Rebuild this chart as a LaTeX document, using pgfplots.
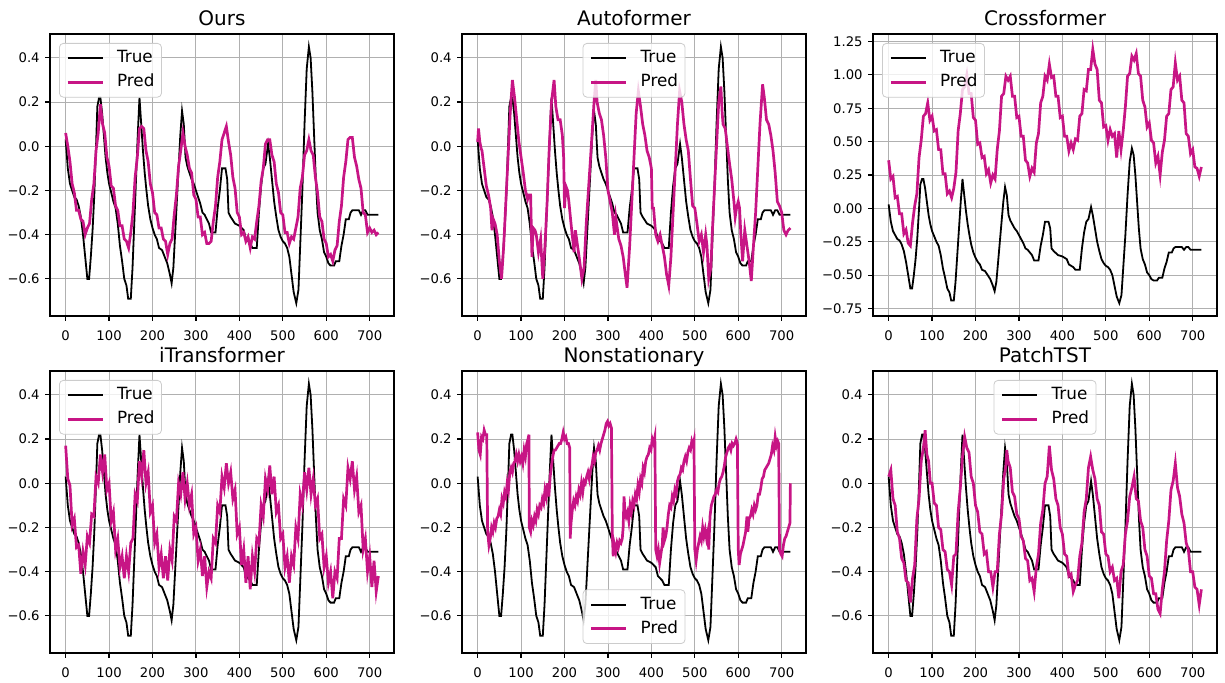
\documentclass[border=0pt]{standalone}
\usepackage{fontspec}
\setmainfont{DejaVu Sans}
\usepackage{pgfplots}
\usepackage{pgfplotstable}
\pgfplotsset{compat=1.18}
\definecolor{predc}{RGB}{199,21,133}
\definecolor{gridc}{RGB}{176,176,176}

\pgfplotstableread{
x y
0 0.03
5 -0.10
10 -0.17
15 -0.20
20 -0.23
25 -0.24
30 -0.27
35 -0.32
40 -0.40
45 -0.50
50 -0.60
54 -0.60
58 -0.50
62 -0.38
66 -0.22
70 0.00
73 0.18
77 0.22
80 0.22
84 0.15
88 0.05
92 -0.05
96 -0.12
100 -0.17
105 -0.21
110 -0.25
115 -0.28
120 -0.35
125 -0.45
130 -0.52
135 -0.60
140 -0.63
144 -0.69
150 -0.69
154 -0.55
158 -0.35
162 -0.15
166 0.05
170 0.22
174 0.10
178 -0.02
182 -0.12
186 -0.20
190 -0.27
195 -0.33
200 -0.37
205 -0.40
210 -0.42
215 -0.46
222 -0.47
228 -0.50
234 -0.53
240 -0.58
244 -0.62
248 -0.55
252 -0.40
256 -0.25
260 -0.10
264 0.05
268 0.16
272 0.10
276 -0.05
280 -0.09
285 -0.12
290 -0.15
295 -0.17
300 -0.20
305 -0.23
310 -0.26
315 -0.30
320 -0.31
325 -0.33
330 -0.35
335 -0.39
345 -0.39
350 -0.28
355 -0.20
360 -0.10
368 -0.10
372 -0.15
375 -0.30
380 -0.32
390 -0.35
400 -0.36
410 -0.38
415 -0.42
425 -0.44
430 -0.46
440 -0.46
445 -0.30
450 -0.18
455 -0.10
460 -0.08
466 0.01
470 -0.05
475 -0.15
480 -0.25
485 -0.32
490 -0.38
495 -0.41
500 -0.43
505 -0.44
510 -0.46
515 -0.50
520 -0.58
525 -0.66
531 -0.71
536 -0.65
540 -0.45
545 -0.20
550 0.10
555 0.35
560 0.45
564 0.40
568 0.25
572 0.05
576 -0.15
580 -0.30
585 -0.38
590 -0.42
595 -0.48
600 -0.50
605 -0.53
610 -0.54
618 -0.54
622 -0.52
630 -0.52
635 -0.45
640 -0.40
645 -0.33
652 -0.33
656 -0.30
660 -0.29
675 -0.29
680 -0.31
685 -0.29
690 -0.29
695 -0.31
720 -0.31
}\truedata

\pgfplotsset{
  every axis title shift=0pt,
  panel/.style={
    scale only axis, width=172pt, height=141pt,
    xmin=-36, xmax=756,
    xtick={0,100,200,300,400,500,600,700},
    xticklabels={0,100,200,300,400,500,600,700},
    grid=major, major grid style={line width=0.45pt, color=gridc},
    axis line style={line width=0.6pt},
    tick align=outside, xtick pos=left, ytick pos=left,
    major tick length=2.5pt, tick style={line width=0.6pt, black},
    tick label style={font=\fontsize{6.6}{7.5}\selectfont, inner sep=0pt},
    xticklabel shift=4.5pt, yticklabel shift=2.5pt,
    title style={font=\fontsize{10}{12}\selectfont, at={(0.5,1)}, anchor=base, yshift=4pt},
    legend cell align=left,
    legend image code/.code={\draw[##1] (0pt,0pt) -- (17.5pt,0pt);},
    legend style={font=\fontsize{8.4}{9}\selectfont, draw=black!20,
      rounded corners=2pt, fill=white, fill opacity=0.8, text opacity=1,
      inner xsep=3.5pt, inner ysep=3.4pt, row sep=3.9pt,
      nodes={inner sep=0pt, text height=6.4pt, text depth=1.7pt},
      /tikz/every odd column/.append style={column sep=6.5pt}},
  },
  ystd/.style={ymin=-0.768, ymax=0.508,
    ytick={-0.6,-0.4,-0.2,0,0.2,0.4},
    yticklabels={−0.6,−0.4,−0.2,0.0,0.2,0.4}},
  truestyle/.style={black, line width=0.9pt},
  predstyle/.style={predc, line width=1.35pt},
  lgUL/.style={legend style={at={(0,1)}, anchor=north west, xshift=4.5pt, yshift=-4.5pt}},
  lgUC/.style={legend style={at={(0.5,1)}, anchor=north, yshift=-4.5pt}},
  lgLC/.style={legend style={at={(0.5,0)}, anchor=south, yshift=4.5pt}},
}

\begin{document}
\begin{tikzpicture}
\useasboundingbox (0,0) rectangle (612.5pt,341.5pt);

% ---------------- Ours ----------------
\begin{axis}[panel, ystd, lgUL, title={Ours}, anchor=south west, at={(25pt,183.5pt)}]
\addplot[truestyle] table[x=x,y=y] {\truedata};
\addplot[predstyle] coordinates {
(0,0.06)(5,0.00)(10,-0.07)(15,-0.17)(20,-0.21)(25,-0.29)(30,-0.29)(35,-0.33)(40,-0.34)(45,-0.40)
(50,-0.37)(55,-0.35)(60,-0.24)(65,-0.17)(70,-0.02)(75,0.06)(80,0.19)(85,0.10)(90,0.06)(95,-0.05)
(100,-0.09)(105,-0.18)(110,-0.19)(115,-0.27)(120,-0.29)(125,-0.36)(130,-0.36)(135,-0.42)(140,-0.43)(145,-0.46)
(150,-0.39)(155,-0.30)(160,-0.14)(165,-0.05)(170,0.08)(175,0.09)(180,0.08)(185,-0.02)(190,-0.07)(195,-0.17)
(200,-0.21)(205,-0.30)(210,-0.31)(215,-0.37)(220,-0.37)(225,-0.42)(230,-0.43)(235,-0.49)(240,-0.44)(245,-0.42)
(250,-0.31)(255,-0.22)(260,-0.09)(265,-0.02)(270,0.06)(275,0.00)(280,-0.04)(285,-0.10)(290,-0.12)(295,-0.22)
(300,-0.24)(305,-0.32)(310,-0.32)(315,-0.40)(320,-0.39)(325,-0.44)(330,-0.44)(335,-0.43)(340,-0.34)(345,-0.27)
(350,-0.14)(355,-0.07)(360,0.03)(365,0.06)(370,0.09)(375,0.02)(380,-0.04)(385,-0.14)(390,-0.19)(395,-0.30)
(400,-0.32)(405,-0.40)(410,-0.39)(415,-0.43)(420,-0.41)(425,-0.46)(430,-0.41)(435,-0.42)(440,-0.34)(445,-0.27)
(450,-0.16)(455,-0.10)(460,0.01)(465,0.03)(470,0.03)(475,-0.04)(480,-0.07)(485,-0.17)(490,-0.21)(495,-0.30)
(500,-0.31)(505,-0.39)(510,-0.39)(515,-0.44)(520,-0.41)(525,-0.42)(530,-0.37)(535,-0.32)(540,-0.19)(545,-0.14)
(550,-0.04)(555,-0.02)(560,0.03)(565,-0.02)(570,-0.04)(575,-0.14)(580,-0.21)(585,-0.32)(590,-0.34)(595,-0.42)
(600,-0.44)(605,-0.50)(610,-0.49)(615,-0.52)(620,-0.47)(625,-0.45)(630,-0.34)(635,-0.27)(640,-0.14)(645,-0.07)
(650,0.03)(655,0.04)(660,0.04)(665,-0.05)(670,-0.09)(675,-0.15)(680,-0.19)(685,-0.30)(690,-0.31)(695,-0.39)
(700,-0.37)(705,-0.39)(710,-0.38)(715,-0.40)(720,-0.39)};
\legend{True,Pred}
\end{axis}

% ---------------- Autoformer ----------------
\begin{axis}[panel, ystd, lgUC, title={Autoformer}, anchor=south west, at={(231pt,183.5pt)}]
\addplot[truestyle] table[x=x,y=y] {\truedata};
\addplot[predstyle] coordinates {
(0,0.02)(2,0.08)(5,0.02)(8,-0.01)(10,-0.02)(15,-0.10)(20,-0.18)(25,-0.22)(30,-0.28)(33,-0.38)(36,-0.33)(40,-0.35)(45,-0.40)
(50,-0.52)(55,-0.60)(60,-0.45)(65,-0.25)(70,-0.05)(75,0.15)(80,0.30)(85,0.22)(90,0.12)(95,0.02)
(100,-0.05)(105,-0.12)(110,-0.20)(115,-0.24)(118,-0.22)(122,-0.22)(125,-0.50)(128,-0.37)(132,-0.38)(135,-0.40)(140,-0.48)(145,-0.42)
(150,-0.60)(155,-0.45)(160,-0.25)(165,0.00)(170,0.20)(176,0.30)(180,0.18)(185,0.12)(190,0.12)(195,0.05)
(198,-0.05)(200,-0.28)(203,-0.18)(207,-0.20)(210,-0.25)(215,-0.35)(222,-0.48)(225,-0.38)(230,-0.45)(235,-0.52)(240,-0.60)(245,-0.55)
(250,-0.35)(255,-0.20)(260,-0.05)(268,0.20)(272,0.30)(275,0.20)(280,0.15)(285,0.12)(290,0.05)(295,-0.05)
(300,-0.20)(305,-0.25)(310,-0.30)(315,-0.40)(318,-0.32)(320,-0.35)(325,-0.42)(330,-0.45)(335,-0.50)(340,-0.58)(344,-0.64)
(350,-0.45)(355,-0.25)(360,-0.05)(365,0.15)(370,0.25)(375,0.18)(380,0.10)(385,0.05)(390,-0.02)(395,-0.05)
(400,-0.10)(402,-0.28)(405,-0.28)(410,-0.40)(415,-0.43)(420,-0.40)(425,-0.45)(430,-0.50)(435,-0.58)(440,-0.63)(445,-0.50)
(450,-0.30)(455,-0.10)(460,0.10)(465,0.25)(470,0.20)(475,0.10)(480,0.03)(485,-0.02)(490,-0.15)(495,-0.27)
(500,-0.28)(505,-0.35)(510,-0.43)(515,-0.40)(520,-0.48)(525,-0.40)(528,-0.45)(532,-0.60)(537,-0.55)(540,-0.40)(545,-0.20)
(550,0.00)(555,0.20)(560,0.27)(563,0.15)(565,0.10)(570,0.08)(575,0.00)(580,-0.08)(585,-0.15)(590,-0.25)(593,-0.32)(596,-0.28)
(600,-0.25)(603,-0.28)(606,-0.40)(610,-0.52)(615,-0.38)(620,-0.45)(625,-0.52)(630,-0.61)(635,-0.45)(640,-0.30)(645,-0.10)
(650,0.10)(656,0.28)(660,0.22)(665,0.12)(670,0.10)(675,0.05)(680,-0.02)(685,-0.12)(690,-0.25)(695,-0.27)
(700,-0.30)(705,-0.38)(710,-0.40)(715,-0.38)(720,-0.37)};
\legend{True,Pred}
\end{axis}

% ---------------- Crossformer ----------------
\begin{axis}[panel, lgUL, title={Crossformer}, anchor=south west, at={(436.5pt,183.5pt)},
  ymin=-0.806, ymax=1.306,
  ytick={-0.75,-0.5,-0.25,0,0.25,0.5,0.75,1,1.25},
  yticklabels={−0.75,−0.50,−0.25,0.00,0.25,0.50,0.75,1.00,1.25}]
\addplot[truestyle] table[x=x,y=y] {\truedata};
\addplot[predstyle] coordinates {
(0,0.36)(5,0.22)(10,0.24)(15,0.08)(20,0.09)(25,-0.04)(30,-0.04)(35,-0.19)(40,-0.16)(45,-0.26)
(50,-0.28)(55,-0.11)(60,0.02)(65,0.11)(70,0.38)(75,0.51)(80,0.69)(85,0.71)(90,0.79)(95,0.66)
(100,0.69)(105,0.58)(110,0.59)(115,0.44)(120,0.44)(125,0.26)(130,0.26)(135,0.11)(140,0.13)(145,0.08)
(150,0.15)(155,0.27)(160,0.58)(165,0.71)(170,0.89)(175,0.91)(180,1.00)(185,0.86)(190,0.86)(195,0.68)
(200,0.66)(205,0.48)(210,0.49)(215,0.38)(220,0.39)(225,0.26)(230,0.29)(235,0.19)(240,0.25)(245,0.22)
(250,0.44)(255,0.58)(260,0.84)(265,0.86)(270,0.99)(275,0.96)(280,0.99)(285,0.84)(290,0.84)(295,0.68)
(300,0.69)(305,0.54)(310,0.54)(315,0.36)(320,0.34)(325,0.24)(330,0.30)(335,0.27)(340,0.49)(345,0.56)
(350,0.79)(355,0.84)(360,0.99)(365,0.96)(370,1.08)(375,0.98)(380,0.99)(385,0.84)(390,0.84)(395,0.68)
(400,0.69)(405,0.54)(410,0.54)(415,0.43)(420,0.49)(425,0.44)(430,0.52)(435,0.51)(440,0.69)(445,0.71)
(450,0.89)(455,0.88)(460,1.04)(465,1.04)(470,1.19)(475,1.08)(480,1.04)(485,0.81)(490,0.79)(495,0.61)
(500,0.62)(505,0.51)(510,0.59)(515,0.54)(520,0.56)(525,0.38)(530,0.58)(535,0.44)(540,0.58)(545,0.76)
(550,0.99)(555,1.01)(560,1.14)(565,1.11)(570,1.16)(575,1.01)(580,0.99)(585,0.81)(590,0.76)(595,0.61)
(600,0.64)(605,0.51)(610,0.49)(615,0.34)(620,0.39)(625,0.25)(630,0.42)(635,0.51)(640,0.69)(645,0.71)
(650,0.89)(655,0.91)(660,1.09)(665,0.96)(670,0.99)(675,0.81)(680,0.79)(685,0.56)(690,0.54)(695,0.41)
(700,0.44)(705,0.31)(710,0.30)(715,0.24)(720,0.31)};
\legend{True,Pred}
\end{axis}

% ---------------- iTransformer ----------------
\begin{axis}[panel, ystd, lgUL, title={iTransformer}, anchor=south west, at={(25pt,15pt)}]
\addplot[truestyle] table[x=x,y=y] {\truedata};
\addplot[predstyle] coordinates {
(0,0.17)(5,0.02)(10,-0.01)(15,-0.19)(20,-0.16)(25,-0.29)(30,-0.28)(35,-0.41)(40,-0.31)(45,-0.37)
(50,-0.24)(55,-0.27)(60,-0.14)(65,-0.15)(70,0.03)(75,0.00)(80,0.13)(85,0.05)(90,0.13)(95,-0.03)
(100,0.00)(105,-0.17)(110,-0.13)(115,-0.30)(120,-0.25)(125,-0.38)(130,-0.33)(135,-0.43)(140,-0.33)(145,-0.40)
(150,-0.27)(155,-0.25)(160,-0.05)(165,-0.08)(170,0.10)(175,0.03)(180,0.15)(185,0.00)(190,0.05)(195,-0.13)
(200,-0.10)(205,-0.27)(210,-0.23)(215,-0.38)(220,-0.32)(225,-0.43)(230,-0.33)(235,-0.44)(240,-0.30)(245,-0.35)
(250,-0.15)(255,-0.17)(260,0.00)(265,-0.05)(270,0.05)(275,-0.07)(280,0.00)(285,-0.10)(290,-0.05)(295,-0.23)
(300,-0.20)(305,-0.35)(310,-0.30)(315,-0.42)(320,-0.33)(325,-0.47)(330,-0.40)(335,-0.43)(340,-0.25)(345,-0.27)
(350,-0.10)(355,-0.13)(360,0.03)(365,-0.02)(370,0.09)(375,0.00)(380,0.05)(385,-0.07)(390,-0.03)(395,-0.23)
(400,-0.20)(405,-0.37)(410,-0.30)(415,-0.45)(420,-0.33)(425,-0.48)(430,-0.33)(435,-0.40)(440,-0.25)(445,-0.27)
(450,-0.10)(455,-0.15)(460,0.02)(465,-0.03)(470,0.08)(475,-0.05)(480,0.03)(485,-0.13)(490,-0.10)(495,-0.25)
(500,-0.23)(505,-0.38)(510,-0.33)(515,-0.45)(520,-0.33)(525,-0.37)(530,-0.20)(535,-0.25)(540,-0.05)(545,-0.10)
(550,0.05)(555,-0.03)(560,0.07)(565,-0.05)(570,0.02)(575,-0.10)(580,-0.07)(585,-0.25)(590,-0.23)(595,-0.38)
(600,-0.33)(605,-0.45)(610,-0.40)(615,-0.52)(620,-0.40)(625,-0.43)(630,-0.25)(635,-0.25)(640,-0.07)(645,-0.10)
(650,0.07)(655,0.02)(660,0.10)(665,-0.03)(670,0.03)(675,-0.13)(680,-0.10)(685,-0.30)(690,-0.25)(695,-0.40)
(700,-0.33)(705,-0.47)(710,-0.35)(715,-0.49)(720,-0.42)};
\legend{True,Pred}
\end{axis}

% ---------------- Nonstationary ----------------
\begin{axis}[panel, ystd, lgLC, title={Nonstationary}, anchor=south west, at={(231pt,15pt)}]
\addplot[truestyle] table[x=x,y=y] {\truedata};
\addplot[predstyle] coordinates {
(0,0.23)(3,0.15)(6,0.13)(9,0.21)(12,0.20)(15,0.24)(18,0.22)(21,0.22)(23,-0.22)(26,-0.28)(29,-0.25)(32,-0.20)(35,-0.22)
(38,-0.18)(41,-0.20)(44,-0.16)(47,-0.15)(50,-0.12)(53,-0.14)(56,-0.07)(59,-0.09)(62,-0.04)(65,-0.06)(68,0.00)(71,-0.03)
(74,0.05)(77,0.07)(80,0.05)(83,0.09)(86,0.10)(89,0.13)(92,0.10)(95,0.13)(98,0.10)(101,0.12)(104,0.09)(107,0.15)(110,0.12)
(113,0.18)(116,0.20)(118,0.22)(119,-0.20)(122,-0.22)(125,-0.17)(128,-0.19)(131,-0.15)(134,-0.17)(137,-0.12)(140,-0.14)
(143,-0.10)(146,-0.11)(149,-0.07)(152,-0.09)(155,-0.03)(158,-0.06)(161,0.00)(164,-0.06)(167,0.03)(170,0.08)(173,0.12)
(176,0.15)(179,0.15)(182,0.16)(185,0.17)(188,0.18)(191,0.18)(194,0.20)(197,0.23)(200,0.20)(203,0.21)(206,0.18)(209,0.18)
(212,0.16)(213,-0.25)(215,-0.18)(218,-0.12)(221,-0.08)(224,-0.10)(227,-0.06)(230,-0.08)(233,-0.03)(236,-0.05)(239,0.00)
(242,-0.04)(245,0.01)(248,0.00)(251,0.03)(254,0.05)(257,0.02)(260,0.06)(263,0.08)(266,0.12)(269,0.10)(272,0.14)(275,0.15)
(278,0.17)(281,0.15)(284,0.18)(287,0.20)(290,0.22)(293,0.24)(296,0.27)(299,0.28)(302,0.26)(305,0.27)(308,0.25)(310,-0.22)
(312,-0.33)(315,-0.28)(318,-0.31)(321,-0.27)(324,-0.29)(327,-0.26)(330,-0.27)(333,-0.25)(335,-0.20)(337,-0.06)(339,-0.12)
(342,-0.15)(345,-0.13)(348,-0.17)(351,-0.10)(354,-0.13)(357,-0.08)(360,-0.10)(363,-0.05)(366,-0.07)(369,-0.01)(372,-0.04)
(375,0.02)(378,0.00)(381,0.07)(384,0.05)(387,0.10)(390,0.12)(393,0.13)(396,0.16)(399,0.15)(402,0.20)(405,0.18)(408,0.21)
(410,-0.30)(413,-0.33)(416,-0.30)(419,-0.36)(422,-0.32)(425,-0.28)(427,-0.20)(430,-0.26)(433,-0.24)(436,-0.20)(439,-0.14)
(442,-0.10)(445,-0.11)(448,-0.06)(451,-0.08)(454,-0.03)(457,-0.05)(460,0.01)(463,0.03)(466,0.04)(469,0.07)(472,0.06)
(475,0.10)(478,0.12)(481,0.10)(484,0.14)(487,0.16)(490,0.15)(493,0.19)(496,0.17)(498,0.19)(500,-0.30)(503,-0.35)(506,-0.30)
(509,-0.27)(512,-0.24)(515,-0.26)(518,-0.20)(521,-0.24)(524,-0.21)(527,-0.25)(530,-0.22)(532,-0.30)(535,-0.15)(538,-0.10)
(541,-0.08)(544,-0.06)(547,-0.05)(550,-0.03)(553,-0.04)(556,0.00)(559,0.02)(562,0.03)(565,0.05)(568,0.08)(571,0.12)
(574,0.14)(577,0.16)(580,0.17)(583,0.15)(586,0.18)(589,0.17)(592,0.18)(595,0.20)(598,0.18)(600,-0.30)(602,-0.37)(605,-0.32)
(608,-0.30)(611,-0.28)(614,-0.25)(617,-0.22)(620,-0.15)(622,-0.22)(625,-0.16)(628,-0.15)(631,-0.12)(634,-0.14)(637,-0.10)
(640,-0.12)(643,-0.10)(646,-0.05)(649,-0.05)(652,-0.02)(655,0.02)(658,0.03)(661,0.06)(664,0.07)(667,0.08)(670,0.09)
(673,0.11)(676,0.13)(679,0.17)(682,0.15)(685,0.21)(688,0.17)(691,0.19)(693,0.18)(695,-0.30)(698,-0.32)(701,-0.33)
(704,-0.28)(707,-0.25)(710,-0.24)(713,-0.22)(716,-0.20)(719,-0.18)(720,0.00)};
\legend{True,Pred}
\end{axis}

% ---------------- PatchTST ----------------
\begin{axis}[panel, ystd, lgUC, title={PatchTST}, anchor=south west, at={(436.5pt,15pt)}]
\addplot[truestyle] table[x=x,y=y] {\truedata};
\addplot[predstyle] coordinates {
(0,0.03)(5,0.06)(10,-0.07)(15,-0.10)(20,-0.22)(25,-0.25)(30,-0.34)(35,-0.36)(40,-0.44)(45,-0.45)
(50,-0.54)(55,-0.43)(60,-0.37)(65,-0.16)(70,-0.07)(75,0.10)(80,0.16)(84,0.24)(88,0.13)(92,0.10)(96,0.00)
(100,0.00)(105,-0.09)(110,-0.10)(115,-0.20)(120,-0.21)(125,-0.30)(130,-0.31)(135,-0.39)(140,-0.40)(145,-0.46)
(150,-0.33)(155,-0.32)(160,-0.13)(165,-0.02)(170,0.12)(175,0.21)(180,0.16)(185,0.14)(190,0.03)(195,0.00)
(200,-0.10)(205,-0.13)(210,-0.22)(215,-0.23)(220,-0.32)(225,-0.31)(230,-0.40)(235,-0.40)(240,-0.47)(245,-0.40)
(250,-0.40)(255,-0.23)(260,-0.14)(265,0.02)(270,0.08)(272,0.15)(275,0.10)(280,0.07)(285,-0.04)(290,-0.06)(295,-0.14)
(300,-0.16)(305,-0.24)(310,-0.26)(315,-0.34)(320,-0.35)(325,-0.44)(330,-0.43)(335,-0.49)(340,-0.38)(345,-0.32)
(350,-0.18)(355,-0.12)(360,0.00)(365,0.03)(370,0.17)(375,0.06)(380,0.02)(385,-0.07)(390,-0.10)(395,-0.20)
(400,-0.23)(405,-0.32)(410,-0.33)(415,-0.42)(420,-0.41)(425,-0.49)(430,-0.46)(435,-0.44)(440,-0.33)(445,-0.27)
(450,-0.13)(455,-0.07)(460,0.07)(465,0.12)(470,0.06)(475,0.02)(480,-0.07)(485,-0.10)(490,-0.22)(495,-0.23)
(500,-0.32)(505,-0.33)(510,-0.40)(515,-0.38)(520,-0.44)(525,-0.43)(530,-0.52)(535,-0.40)(540,-0.37)(545,-0.23)
(550,-0.17)(555,-0.06)(560,-0.02)(565,0.03)(570,-0.07)(575,-0.08)(580,-0.17)(585,-0.20)(590,-0.30)(595,-0.33)
(600,-0.42)(605,-0.43)(610,-0.50)(615,-0.50)(620,-0.57)(625,-0.59)(630,-0.48)(635,-0.40)(640,-0.26)(645,-0.17)
(650,-0.03)(655,0.01)(660,0.09)(665,-0.02)(670,-0.06)(675,-0.14)(680,-0.18)(685,-0.27)(690,-0.30)(695,-0.40)
(700,-0.40)(705,-0.47)(710,-0.48)(715,-0.55)(720,-0.48)};
\legend{True,Pred}
\end{axis}
\end{tikzpicture}
\end{document}
